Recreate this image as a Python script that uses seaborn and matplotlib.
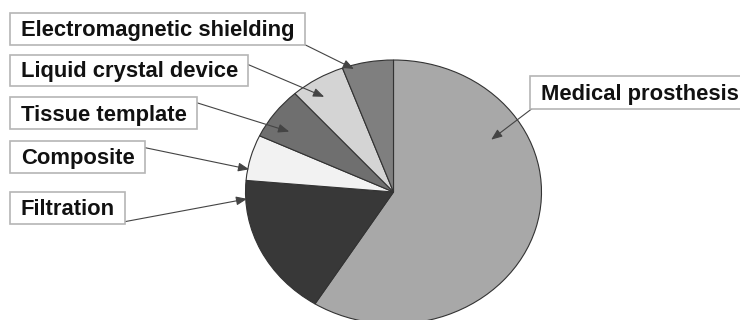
import matplotlib
matplotlib.use("Agg")
import matplotlib.pyplot as plt
import seaborn as sns
from matplotlib.patches import Rectangle
import numpy as np

# ---- data ----
categories = ["Medical prosthesis", "Filtration", "Composite",
              "Tissue template", "Liquid crystal device", "Electromagnetic shielding"]
values = [58.9, 17.5, 5.6, 6.4, 6.0, 5.6]
colors = ["#a8a8a8", "#383838", "#f2f2f2", "#6f6f6f", "#d4d4d4", "#7f7f7f"]

# ---- layout (figure pixels, origin top-left) ----
W, H = 740, 320
cx, cy, rx, ry = 393.5, 192, 148, 132
# label: (box left, box top, baseline)  and arrow start as (relx, rely) on box, target (angle deg, radius frac)
label_box = {
    "Electromagnetic shielding": (10, 13, 36),
    "Liquid crystal device": (10, 55, 77.5),
    "Tissue template": (10, 97, 120.5),
    "Composite": (10, 141, 164),
    "Filtration": (10, 192, 215),
    "Medical prosthesis": (530, 76, 100),
}
arrow_start = {
    "Electromagnetic shielding": (1.0, 1.0),
    "Liquid crystal device": (1.0, 0.31),
    "Tissue template": (1.0, 0.18),
    "Composite": (1.0, 0.21),
    "Filtration": (1.0, 0.94),
    "Medical prosthesis": (0.01, 1.0),
}
arrow_target = {
    "Electromagnetic shielding": (106, 0.97),
    "Liquid crystal device": (123, 0.86),
    "Tissue template": (147, 0.84),
    "Composite": (170, 0.99),
    "Filtration": (183, 0.99),
    "Medical prosthesis": (31, 0.77),
}

sns.set_theme(style="white")
plt.rcParams["font.family"] = ["Liberation Sans", "DejaVu Sans"]

fig = plt.figure(figsize=(W / 100, H / 100), dpi=100)
fig.patch.set_facecolor("white")
ax = fig.add_axes([0, 0, 1, 1])
ax.pie(values, colors=colors, startangle=90, counterclock=False,
       wedgeprops=dict(edgecolor="#333333", linewidth=0.8))
ax.set_aspect("auto")
ax.set_xlim(-cx / rx, (W - cx) / rx)
ax.set_ylim(-(H - cy) / ry, cy / ry)
ax.axis("off")

def fp(x, y):
    return (x / W, 1 - y / H)

fig.canvas.draw()
renderer = fig.canvas.get_renderer()
fs = 15.8
for name in categories:
    bl, bt, base = label_box[name]
    t = fig.text(*fp(bl + 11, base), name, fontsize=fs, fontweight="bold",
                 ha="left", va="baseline", color="#111111", zorder=5)
    ext = t.get_window_extent(renderer)
    right = ext.x1 + 10
    bb = base + 8.5
    box_w = right - bl
    box_h = bb - bt
    rect = Rectangle(fp(bl, bb), box_w / W, box_h / H, transform=fig.transFigure,
                     facecolor="white", edgecolor="#b5b5b5", linewidth=1.2, zorder=4)
    fig.add_artist(rect)
    relx, rely = arrow_start[name]
    sx = bl + relx * box_w
    sy = bt + rely * box_h
    ang, rr = arrow_target[name]
    tx = rr * np.cos(np.radians(ang))
    ty = rr * np.sin(np.radians(ang))
    ax.annotate("", xy=(tx, ty), xycoords="data",
                xytext=fp(sx, sy), textcoords="figure fraction",
                arrowprops=dict(arrowstyle="-|>,head_length=0.55,head_width=0.22",
                                color="#444444", lw=0.8, shrinkA=0, shrinkB=0,
                                mutation_scale=12),
                zorder=3, annotation_clip=False)

fig.savefig("out.png", dpi=100, facecolor="white")
